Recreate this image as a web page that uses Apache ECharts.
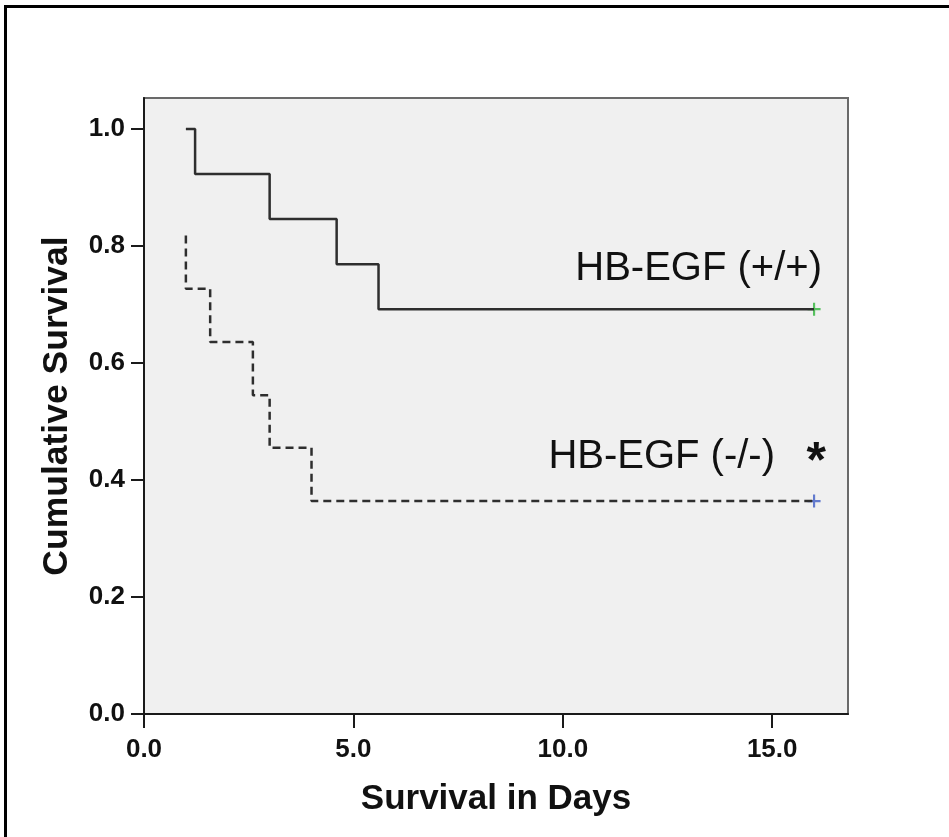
<!DOCTYPE html>
<html>
<head>
<meta charset="utf-8">
<title>Survival</title>
<script src="https://cdn.jsdelivr.net/npm/echarts@6/dist/echarts.min.js"></script>
<style>
  html, body { margin: 0; padding: 0; background: #fff; }
  #main { width: 949px; height: 837px; }
</style>
</head>
<body>
<div id="main"></div>
<script>
// tick labels
const xTicks = [0, 5, 10, 15]
const yTicks = [0, 0.2, 0.4, 0.6, 0.8, 1.0]
// HB-EGF (+/+) : [day, cumulative survival]
const wtDays = [1.0, 1.22, 3.0, 4.6, 5.6, 16.0]
const wtSurv = [1.0, 0.923, 0.846, 0.769, 0.692, 0.692]
// HB-EGF (-/-)
const koDays = [1.0, 1.0, 1.58, 2.6, 3.0, 4.0, 16.0]
const koSurv = [0.818, 0.727, 0.636, 0.545, 0.455, 0.364, 0.364]
// censored marks
const wtCensor = [[16.0, 0.692]]
const koCensor = [[16.0, 0.364]]

const plus = 'path://M5,0h2v5h5v2h-5v5h-2v-5h-5v-2h5z'
const pair = (xs, ys) => xs.map((x, i) => [x, ys[i]])
const font = 'Liberation Sans'

const chart = echarts.init(document.getElementById('main'))
chart.setOption({
  backgroundColor: '#fff',
  animation: false,
  grid: {
    left: 144,
    top: 98,
    right: 101,
    bottom: 123,
    show: true,
    backgroundColor: '#f0f0f0',
    borderColor: '#6a6a6a',
    borderWidth: 2
  },
  xAxis: {
    type: 'value',
    min: 0,
    max: 16.81,
    name: 'Survival in Days',
    nameLocation: 'middle',
    nameGap: 68,
    nameTextStyle: { fontFamily: font, fontWeight: 'bold', fontSize: 35, color: '#111' },
    splitLine: { show: false },
    axisLine: { onZero: false, lineStyle: { color: '#1a1a1a', width: 2 } },
    axisTick: { customValues: xTicks, length: 14, lineStyle: { color: '#1a1a1a', width: 2 } },
    axisLabel: {
      customValues: xTicks,
      margin: 23,
      fontFamily: font, fontWeight: 'bold', fontSize: 26, color: '#111',
      formatter: v => v.toFixed(1)
    }
  },
  yAxis: {
    type: 'value',
    min: 0,
    max: 1.053,
    name: 'Cumulative Survival',
    nameLocation: 'middle',
    nameGap: 69,
    nameTextStyle: { fontFamily: font, fontWeight: 'bold', fontSize: 35.5, color: '#111' },
    splitLine: { show: false },
    axisLine: { onZero: false, lineStyle: { color: '#1a1a1a', width: 2 } },
    axisTick: { customValues: yTicks, length: 13, lineStyle: { color: '#1a1a1a', width: 2 } },
    axisLabel: {
      customValues: yTicks,
      margin: 19,
      fontFamily: font, fontWeight: 'bold', fontSize: 26, color: '#111',
      formatter: v => v.toFixed(1)
    }
  },
  series: [
    {
      name: 'HB-EGF (+/+)',
      type: 'line',
      step: 'end',
      data: pair(wtDays, wtSurv),
      showSymbol: false,
      lineStyle: { color: '#2e2e2e', width: 2.5 }
    },
    {
      name: 'HB-EGF (-/-)',
      type: 'line',
      step: 'end',
      data: pair(koDays, koSurv),
      showSymbol: false,
      lineStyle: { color: '#2e2e2e', width: 2.5, type: [8, 5] }
    },
    {
      type: 'scatter',
      data: wtCensor,
      symbol: plus,
      symbolSize: 13,
      itemStyle: { color: '#2fb53a' }
    },
    {
      type: 'scatter',
      data: koCensor,
      symbol: plus,
      symbolSize: 13,
      itemStyle: { color: '#3e5cc6' }
    }
  ],
  graphic: [
    {
      type: 'rect',
      shape: { x: 5.5, y: 6.5, width: 1000, height: 1000 },
      style: { fill: 'none', stroke: '#000', lineWidth: 3 },
      silent: true
    },
    {
      type: 'text',
      right: 949 - 822,
      top: 249,
      style: { text: 'HB-EGF (+/+)', fontFamily: font, fontSize: 40, fill: '#111' }
    },
    {
      type: 'text',
      right: 949 - 775,
      top: 437,
      style: { text: 'HB-EGF (-/-)', fontFamily: font, fontSize: 40, fill: '#111' }
    },
    {
      type: 'text',
      right: 949 - 826,
      top: 438,
      style: { text: '*', fontFamily: font, fontWeight: 'bold', fontSize: 50, fill: '#111' }
    }
  ]
})
</script>
</body>
</html>
